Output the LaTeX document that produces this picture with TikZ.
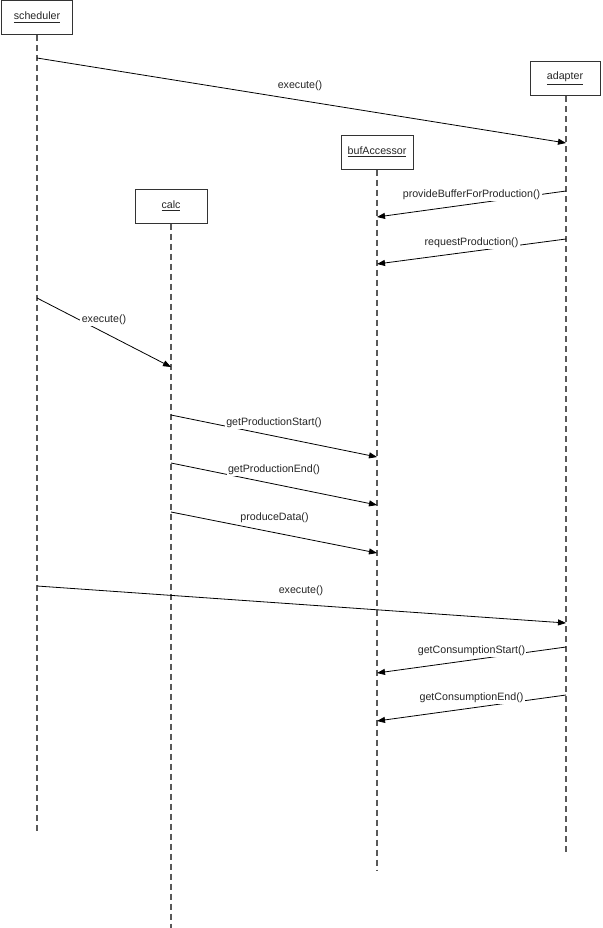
\documentclass[tikz,border=0pt]{standalone}
\usepackage{fontspec}
\setmainfont{Liberation Sans}
\usetikzlibrary{arrows.meta}
\begin{document}
\begin{tikzpicture}[x=0.75pt,y=-0.75pt,
  objbox/.style={draw=black!80,line width=0.75pt,fill=white,minimum width=54pt,minimum height=25.5pt,inner sep=0pt,font=\fontsize{8}{9.6}\selectfont,text=black!85},
  lifeline/.style={draw=black!65,line width=0.8pt,dash pattern=on 4.5pt off 3pt},
  msg/.style={draw=black,line width=0.6pt,-{Triangle[length=6pt,width=4.5pt]}},
  lbl/.style={fill=white,inner sep=1pt,font=\fontsize{8}{9.6}\selectfont,text=black!85}]
\useasboundingbox (0,0) rectangle (603,928);
% objects
\node[objbox,minimum width=53pt] (sch) at (37,17.5) {\underline{scheduler}};
\node[objbox,minimum width=52.5pt,minimum height=26pt] (ada) at (565,78.5) {\underline{adapter}};
\node[objbox] (buf) at (377,152) {\underline{bufAccessor}};
\node[objbox] (cal) at (171,206) {\underline{calc}};
% lifeline ends
\coordinate (schE) at (37,833);
\coordinate (adaE) at (566,852);
\coordinate (bufE) at (377,870);
\coordinate (calE) at (171,928);
\draw[lifeline] (sch.south -| schE) -- (schE);
\draw[lifeline] (ada.south -| adaE) -- (adaE);
\draw[lifeline] (buf.south) -- (bufE);
\draw[lifeline] (cal.south) -- (calE);
% message endpoints
\coordinate (m1a) at (37,58);   \coordinate (m1b) at (566,143);
\coordinate (m2a) at (566,191); \coordinate (m2b) at (377,217);
\coordinate (m3a) at (566,239); \coordinate (m3b) at (377,264);
\coordinate (m4a) at (37,298);  \coordinate (m4b) at (171,367);
\coordinate (m5a) at (171,415); \coordinate (m5b) at (377,457);
\coordinate (m6a) at (171,463); \coordinate (m6b) at (377,505);
\coordinate (m7a) at (171,512); \coordinate (m7b) at (377,553);
\coordinate (m8a) at (37,586);  \coordinate (m8b) at (566,623);
\coordinate (m9a) at (566,647); \coordinate (m9b) at (377,673);
\coordinate (m10a) at (566,695); \coordinate (m10b) at (377,721);
% messages
\draw[msg] (m1a) -- (m1b);
\draw[msg] (m2a) -- (m2b);
\draw[msg] (m3a) -- (m3b);
\draw[msg] (m4a) -- (m4b);
\draw[msg] (m5a) -- (m5b);
\draw[msg] (m6a) -- (m6b);
\draw[msg] (m7a) -- (m7b);
\draw[msg] (m8a) -- (m8b);
\draw[msg] (m9a) -- (m9b);
\draw[msg] (m10a) -- (m10b);
% labels
\node[lbl] (l1) at (300,86) {execute()};
\node[lbl] (l2) at (471.5,195) {provideBufferForProduction()};
\node[lbl] (l3) at (471.5,243) {requestProduction()};
\node[lbl] (l4) at (104,320) {execute()};
\node[lbl] (l5) at (274,423) {getProductionStart()};
\node[lbl] (l6) at (274,470) {getProductionEnd()};
\node[lbl] (l7) at (274.5,518) {produceData()};
\node[lbl] (l8) at (301,591) {execute()};
\node[lbl] (l9) at (471.5,651) {getConsumptionStart()};
\node[lbl] (l10) at (471.5,698) {getConsumptionEnd()};
\end{tikzpicture}
\end{document}
